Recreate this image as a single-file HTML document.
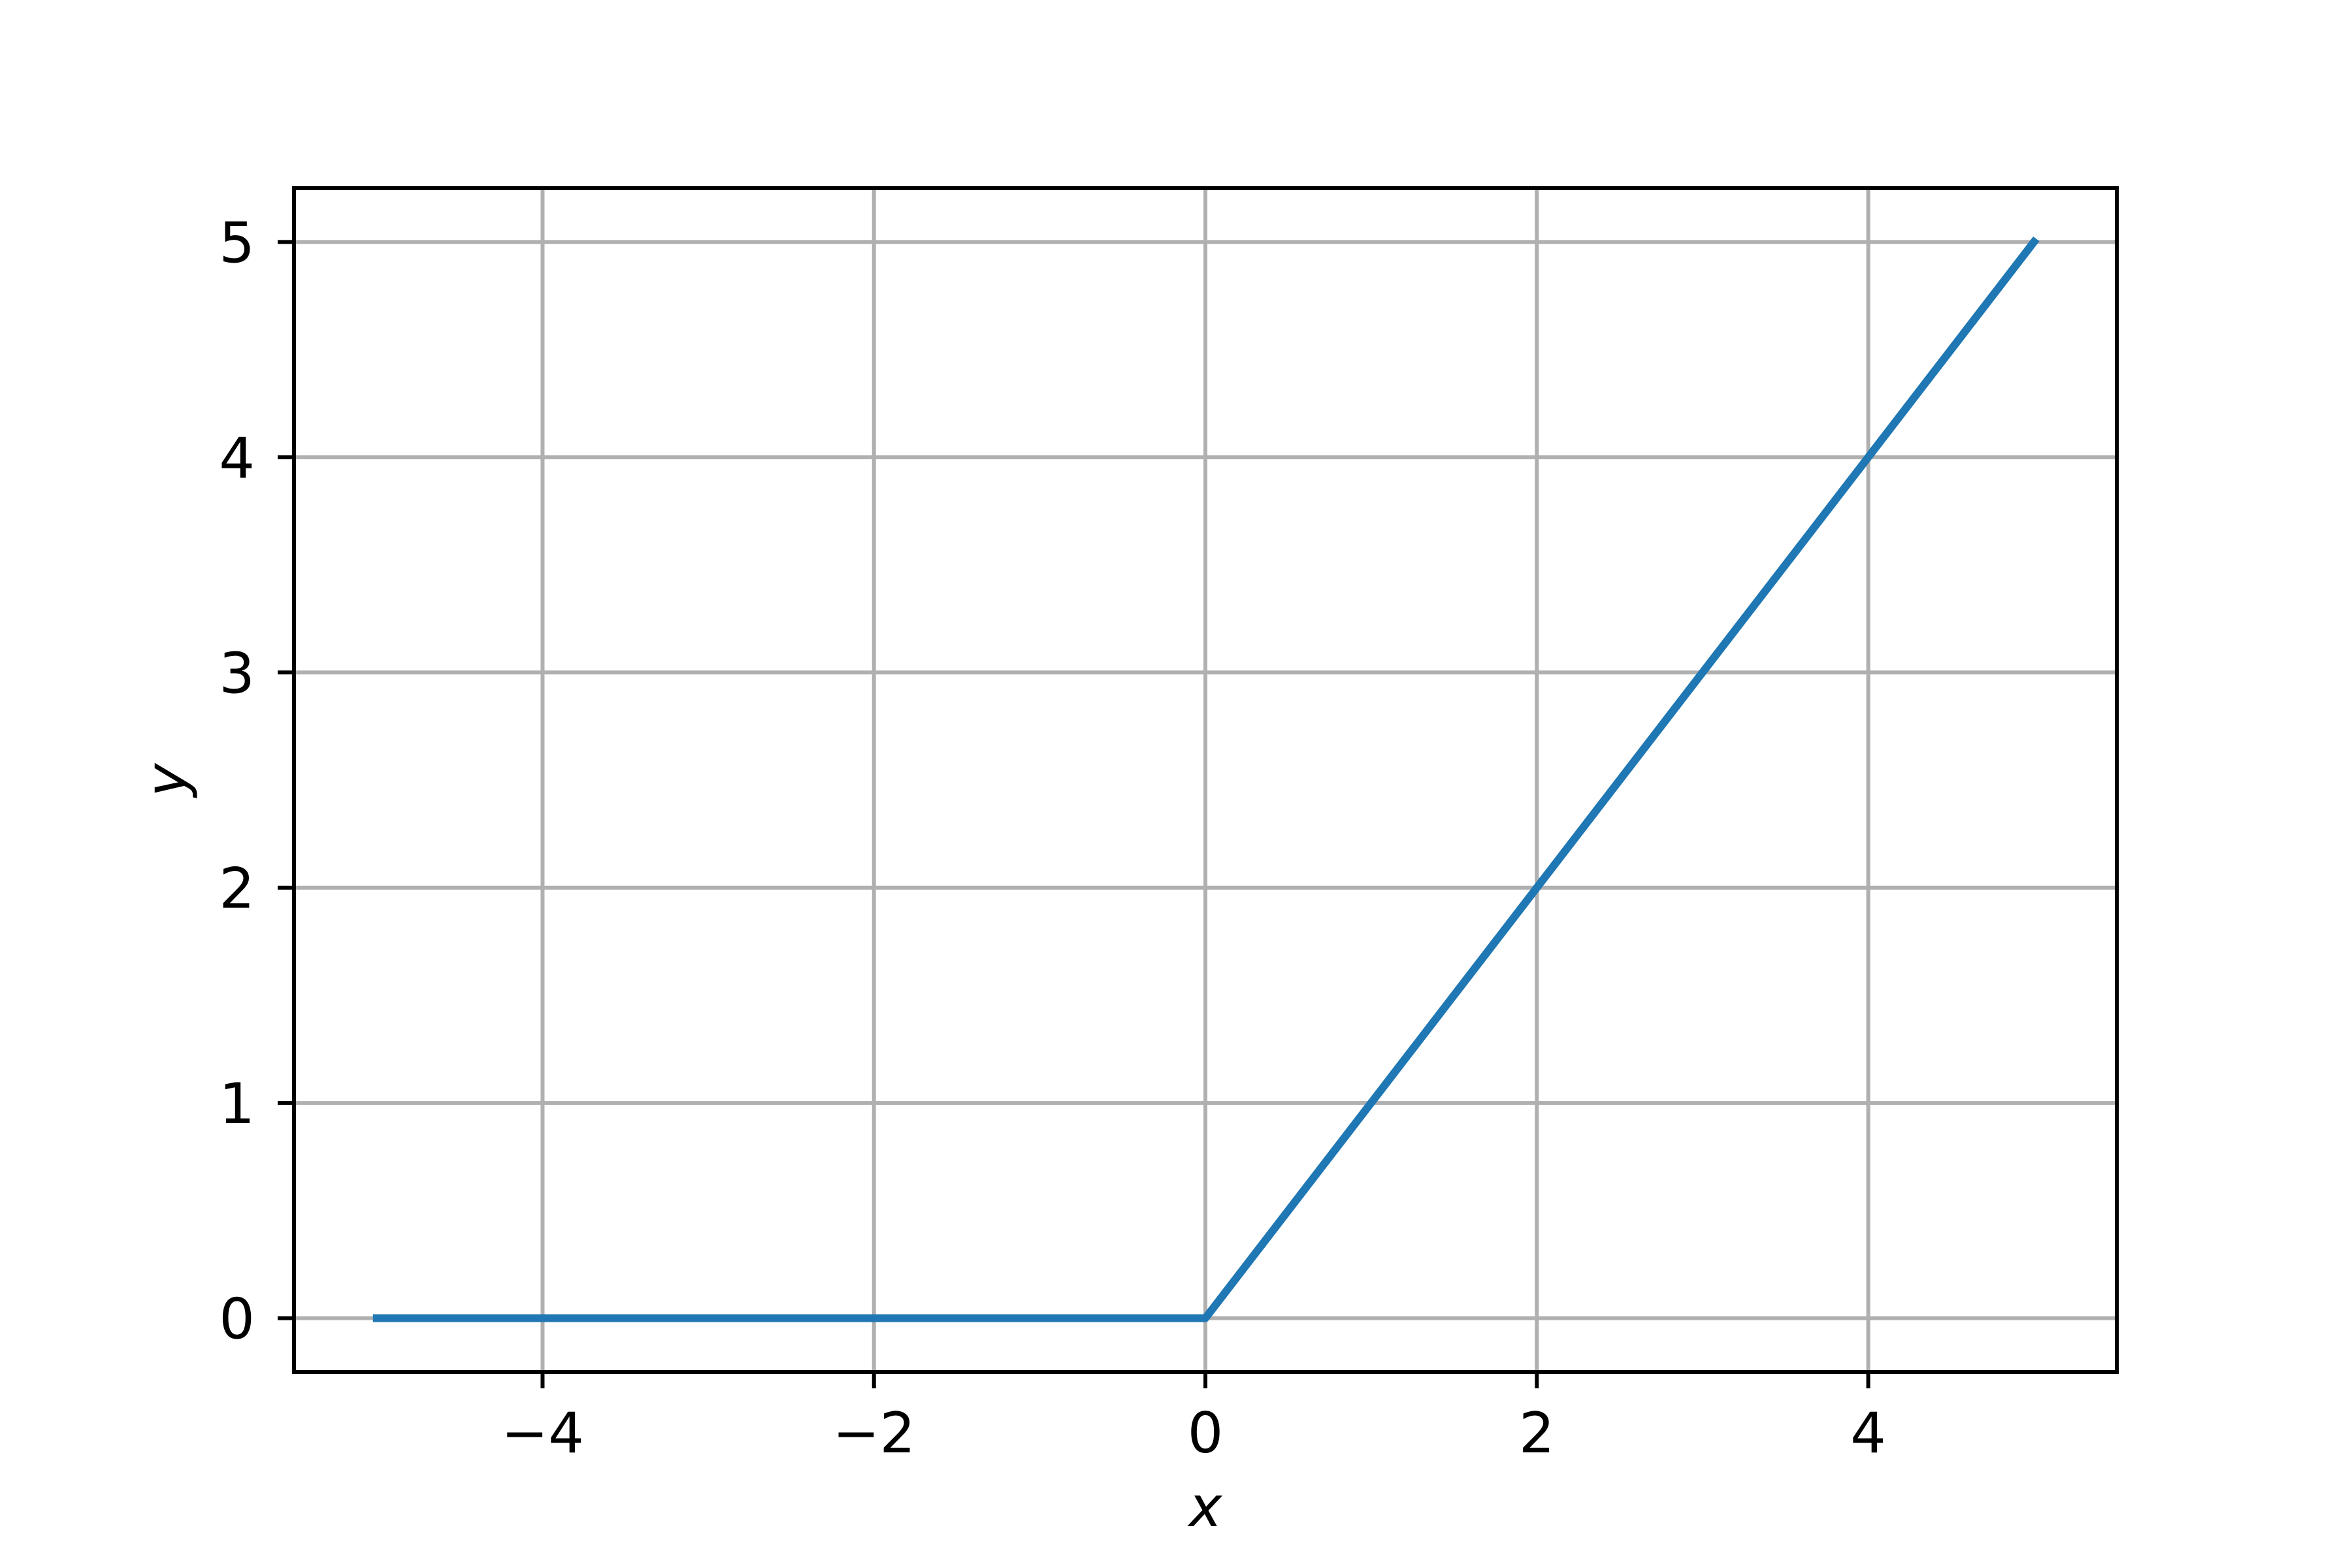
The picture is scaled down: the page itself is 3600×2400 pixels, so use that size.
<!DOCTYPE html>
<html><head><meta charset="utf-8"><style>
html,body{margin:0;padding:0;background:#fff}
svg{display:block}
text{font-family:"DejaVu Sans","Liberation Sans",sans-serif;font-size:86px;fill:#000}
</style></head><body>
<svg id="chart" width="3600" height="2400" viewBox="0 0 3600 2400" xmlns="http://www.w3.org/2000/svg">
<rect x="0" y="0" width="3600" height="2400" fill="#fff"/>
<g id="grid"></g>
<g id="series"></g>
<rect x="450" y="288" width="2790" height="1812" fill="none" stroke="#000" stroke-width="6"/>
<g id="ticks"></g>
<text x="1845" y="2336" text-anchor="middle" font-style="italic">x</text>
<text x="284" y="1194" text-anchor="middle" font-style="italic" transform="rotate(-90 284 1194)">y</text>
</svg>
<script>
const xValues = [-5, 0, 5];
const yValues = [0, 0, 5];
const xTicks = [-4, -2, 0, 2, 4];
const yTicks = [0, 1, 2, 3, 4, 5];
const xTickLabels = ["\u22124", "\u22122", "0", "2", "4"];
const yTickLabels = ["0", "1", "2", "3", "4", "5"];

const L=450,R=3240,T=288,B=2100;
const xmin=-5.5,xmax=5.5,ymin=-0.25,ymax=5.25;
function sx(v){return L+(v-xmin)/(xmax-xmin)*(R-L);}
function sy(v){return B-(v-ymin)/(ymax-ymin)*(B-T);}
const NS="http://www.w3.org/2000/svg";
function mk(tag,attrs,parent){const e=document.createElementNS(NS,tag);for(const k in attrs)e.setAttribute(k,attrs[k]);parent.appendChild(e);return e;}
const grid=document.getElementById('grid'),ticks=document.getElementById('ticks'),series=document.getElementById('series');
xTicks.forEach((v,i)=>{
  const x=sx(v);
  const g=mk('line',{x1:x,x2:x,y1:T,y2:B,stroke:'#b0b0b0','stroke-width':6},grid);
  
  
  const t=mk('line',{x1:x,x2:x,y1:B,y2:B+25,stroke:'#000','stroke-width':6},ticks);
  
  
  const l=mk('text',{x:x,y:2223,'text-anchor':'middle'},ticks);
  l.textContent=xTickLabels[i];
  
  
});
yTicks.forEach((v,i)=>{
  const y=sy(v);
  const g=mk('line',{x1:L,x2:R,y1:y,y2:y,stroke:'#b0b0b0','stroke-width':6},grid);
  
  
  const t=mk('line',{x1:L-25,x2:L,y1:y,y2:y,stroke:'#000','stroke-width':6},ticks);
  
  
  const l=mk('text',{x:390,y:y+31,'text-anchor':'end'},ticks);
  l.textContent=yTickLabels[i];
  
  
});
const pts=xValues.map((v,i)=>sx(v)+','+sy(yValues[i])).join(' ');
const line=mk('polyline',{points:pts,fill:'none',stroke:'#1f77b4','stroke-width':12,'stroke-linejoin':'round','stroke-linecap':'square'},series);


</script>
</body></html>
